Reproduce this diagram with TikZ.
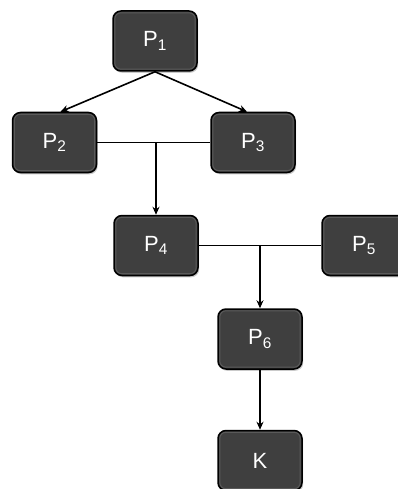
\documentclass[tikz,border=0pt]{standalone}
\usepackage{fontspec}
\setmainfont{Liberation Sans}
\usetikzlibrary{arrows.meta,calc,shadows}
\definecolor{boxfill}{HTML}{3F3F3F}
\definecolor{boxrim}{HTML}{5A5A5A}
\tikzset{
  pbox/.style={draw=black, line width=1.5pt, fill=boxfill, rounded corners=8pt,
    minimum width=84pt, minimum height=60pt, inner sep=0pt,
    text=white, font=\fontsize{22}{26}\selectfont,
    drop shadow={shadow xshift=1.2pt, shadow yshift=-1.8pt, opacity=0.35, fill=black!60},
    path picture={\draw[boxrim, line width=1pt, rounded corners=6pt]
      ([shift={(1.8pt,1.8pt)}]path picture bounding box.south west) rectangle
      ([shift={(-1.8pt,-1.8pt)}]path picture bounding box.north east);}},
  conn/.style={draw=black, line width=1.6pt},
  arr/.style={conn, -{Stealth[length=8pt,width=7pt]}}
}
\begin{document}
\begin{tikzpicture}[x=1pt,y=-1pt]
\useasboundingbox (0,0) rectangle (398,489);
\node[pbox] (p1) at (155,41) {P\textsubscript{1}};
\node[pbox] (p2) at (54.5,142.5) {P\textsubscript{2}};
\node[pbox] (p3) at (253,142.5) {P\textsubscript{3}};
\node[pbox] (p4) at (156,245.5) {P\textsubscript{4}};
\node[pbox] (p5) at (364,245.5) {P\textsubscript{5}};
\node[pbox] (p6) at (260,339) {P\textsubscript{6}};
\node[pbox] (k) at (260,460.5) {K};
\draw[arr] (p1.south) -- ($(p2.north)+(6,0)$);
\draw[arr] (p1.south) -- ($(p3.north)+(-6,0)$);
\draw[conn] (p2.east) -- (p3.west);
\coordinate (j1) at (p4.north |- p2.east);
\draw[arr] (j1) -- (p4.north);
\draw[conn] (p4.east) -- (p5.west);
\coordinate (j2) at (p6.north |- p4.east);
\draw[arr] (j2) -- (p6.north);
\draw[arr] (p6.south) -- (k.north);
\end{tikzpicture}
\end{document}
